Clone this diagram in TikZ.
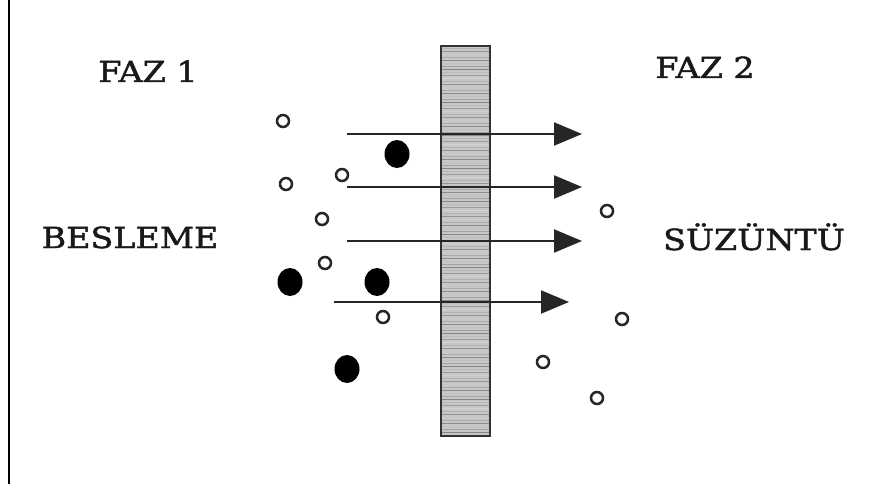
\documentclass[tikz,border=0pt]{standalone}
\usepackage{fontspec}
\newfontfamily\labelfont[FakeStretch=1.15,FakeBold=1.6]{DejaVu Serif}
\usetikzlibrary{arrows.meta,shapes.geometric}
\tikzset{
  lbl/.style={font=\labelfont\fontsize{29}{29}\selectfont, text=black!90, inner sep=0pt, anchor=base},
  small/.style={circle, draw=black!85, line width=2.5pt, minimum size=12pt, inner sep=0pt},
  big/.style={ellipse, fill=black, minimum width=25pt, minimum height=28pt, inner sep=0pt},
  flow/.style={line width=2.2pt, draw=black!85, -{Triangle[length=28pt,width=23pt]}},
  membrane/.style={draw=black!80, line width=2pt, fill=black!22, minimum width=49pt, minimum height=390pt, inner sep=0pt}
}
\begin{document}
\begin{tikzpicture}[x=1pt,y=-1pt]
\useasboundingbox (0,0) rectangle (877,484);
\fill[white] (0,0) rectangle (877,484);
% left border line
\coordinate (bt) at (9,0);
\coordinate (bb) at (9,484);
\draw[line width=2pt] (bt) -- (bb);
% membrane
\node[membrane] (mem) at (465.5,241) {};
\begin{scope}
\clip (441,46) rectangle (490,436);
\foreach \y [count=\i] in {48,51,...,434} {
  \pgfmathsetmacro{\g}{mod(\i*37,11)*3+18}
  \draw[black!\g, line width=0.8pt] (441,\y) -- (490,\y);
}
\end{scope}
\draw[black!80, line width=2pt] (441,46) rectangle (490,436);
% texts
\node[lbl] (faz1) at (148,82) {FAZ 1};
\node[lbl] (faz2) at (705,78) {FAZ 2};
\node[lbl] (besleme) at (130,248) {BESLEME};
\node[lbl] (suzuntu) at (754,250) {SÜZÜNTÜ};
% arrows
\coordinate (a1s) at (347,134); \coordinate (a1e) at (582,134);
\coordinate (a2s) at (347,187); \coordinate (a2e) at (582,187);
\coordinate (a3s) at (347,241); \coordinate (a3e) at (582,241);
\coordinate (a4s) at (334,302); \coordinate (a4e) at (569,302);
\draw[flow] (a1s) -- (a1e);
\draw[flow] (a2s) -- (a2e);
\draw[flow] (a3s) -- (a3e);
\draw[flow] (a4s) -- (a4e);
% small particles
\node[small] (s1) at (283,121) {};
\node[small] (s2) at (286,184) {};
\node[small] (s3) at (342,175) {};
\node[small] (s4) at (322,219) {};
\node[small] (s5) at (325,263) {};
\node[small] (s6) at (383,317) {};
\node[small] (s7) at (607,211) {};
\node[small] (s8) at (622,319) {};
\node[small] (s9) at (543,362) {};
\node[small] (s10) at (597,398) {};
% large particles
\node[big] (b1) at (397,154) {};
\node[big] (b2) at (290,282) {};
\node[big] (b3) at (377,282) {};
\node[big] (b4) at (347,369) {};
\end{tikzpicture}
\end{document}
